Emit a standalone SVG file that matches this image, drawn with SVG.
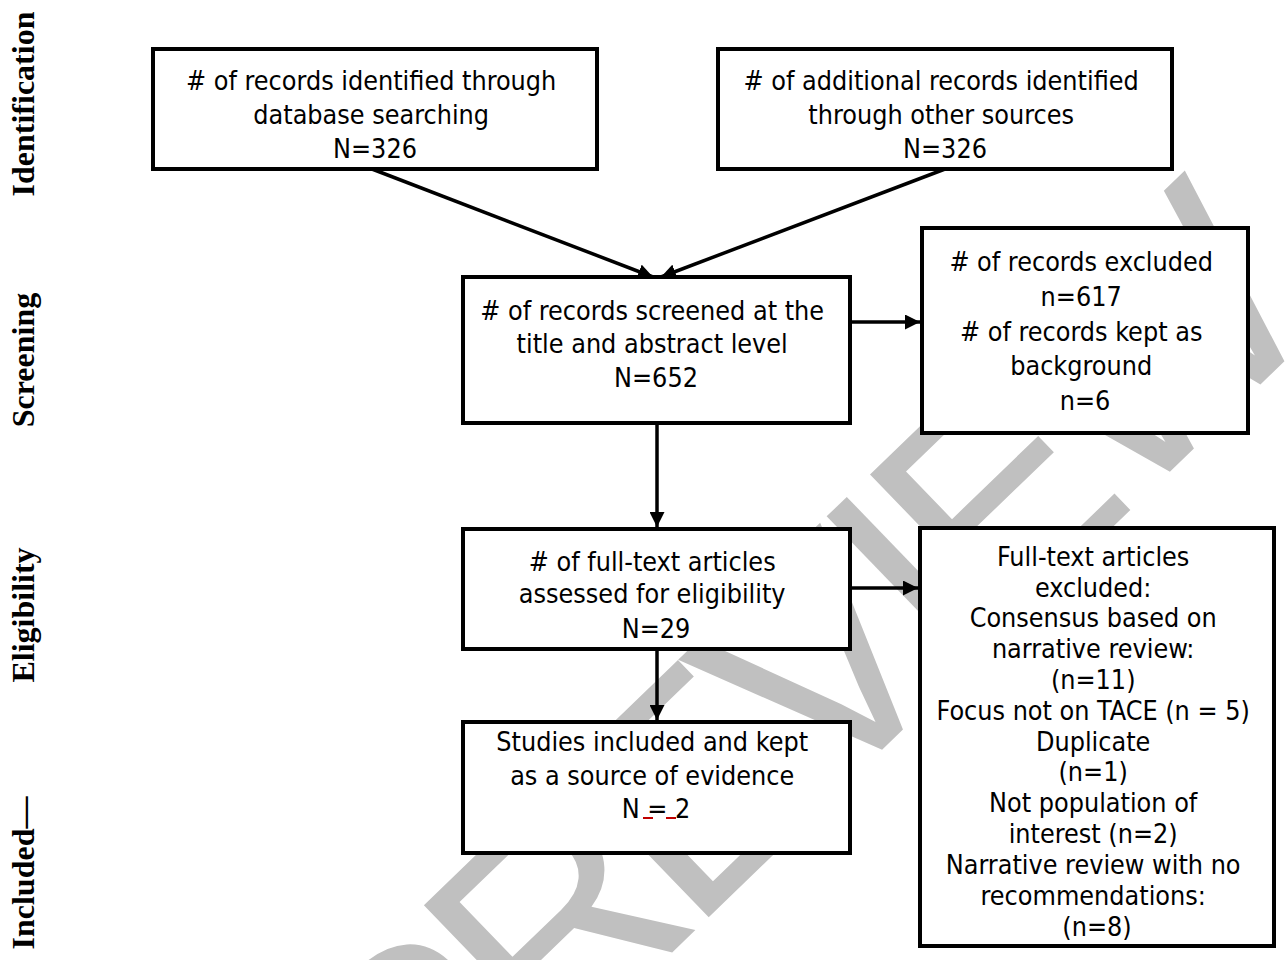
<svg xmlns="http://www.w3.org/2000/svg" width="1287" height="960" viewBox="0 0 1287 960">
<style>
.box{fill:#fff;stroke:#000;stroke-width:4}
.t{font-family:'DejaVu Sans Condensed','DejaVu Sans',sans-serif;font-stretch:condensed;font-size:26.7px;fill:#000;text-anchor:middle}
.side{font-family:'Liberation Serif','Times New Roman',serif;font-weight:bold;font-size:32px;fill:#000;text-anchor:middle}
.wm{font-family:'Liberation Sans',Arial,sans-serif;font-size:300px;letter-spacing:-20px;fill:#c0c0c0}
.conn{stroke:#000;stroke-width:3.5;fill:none}
</style>
<defs>
<marker id="ah" viewBox="0 0 10 10" refX="10" refY="5" markerWidth="15" markerHeight="15" markerUnits="userSpaceOnUse" orient="auto">
<path d="M0,0 L10,5 L0,10 z" fill="#000"/>
</marker>
</defs>
<rect x="0" y="0" width="1287" height="960" fill="#fff"/>
<g id="watermark">
<text class="wm" x="420" y="1196" transform="rotate(-44 420 1196)">PREVIEW</text>
</g>
<g id="phase-labels">
<text class="side" x="34" y="104" transform="rotate(-90 34 104)">Identification</text>
<text class="side" x="34" y="360" transform="rotate(-90 34 360)">Screening</text>
<text class="side" x="34" y="615" transform="rotate(-90 34 615)">Eligibility</text>
<text class="side" x="34" y="873" transform="rotate(-90 34 873)">Included—</text>
</g>
<g id="connectors">
<line class="conn" x1="372" y1="169" x2="653" y2="277" marker-end="url(#ah)"/>
<line class="conn" x1="945" y1="169" x2="661" y2="277" marker-end="url(#ah)"/>
<line class="conn" x1="850" y1="322" x2="920" y2="322" marker-end="url(#ah)"/>
<line class="conn" x1="657" y1="423" x2="657" y2="527" marker-end="url(#ah)"/>
<line class="conn" x1="850" y1="588" x2="918" y2="588" marker-end="url(#ah)"/>
<line class="conn" x1="657" y1="649" x2="657" y2="720" marker-end="url(#ah)"/>
</g>
<g id="node-database">
<rect class="box" x="153" y="49" width="444" height="120"/>
<text class="t">
<tspan x="375" y="90"># of records identified through</tspan>
<tspan x="375" y="124">database searching</tspan>
<tspan x="375" y="158">N=326</tspan>
</text>
</g>
<g id="node-other">
<rect class="box" x="718" y="49" width="454" height="120"/>
<text class="t">
<tspan x="945" y="90"># of additional records identified</tspan>
<tspan x="945" y="124">through other sources</tspan>
<tspan x="945" y="158">N=326</tspan>
</text>
</g>
<g id="node-screened">
<rect class="box" x="463" y="277" width="387" height="146"/>
<text class="t">
<tspan x="656" y="320"># of records screened at the</tspan>
<tspan x="656" y="353">title and abstract level</tspan>
<tspan x="656" y="387">N=652</tspan>
</text>
</g>
<g id="node-excluded">
<rect class="box" x="922" y="228" width="326" height="205"/>
<text class="t">
<tspan x="1085" y="271"># of records excluded</tspan>
<tspan x="1085" y="306">n=617</tspan>
<tspan x="1085" y="341"># of records kept as</tspan>
<tspan x="1085" y="375">background</tspan>
<tspan x="1085" y="410">n=6</tspan>
</text>
</g>
<g id="node-fulltext">
<rect class="box" x="463" y="529" width="387" height="120"/>
<text class="t">
<tspan x="656" y="571"># of full-text articles</tspan>
<tspan x="656" y="603">assessed for eligibility</tspan>
<tspan x="656" y="638">N=29</tspan>
</text>
</g>
<g id="node-fulltext-excluded">
<rect class="box" x="920" y="528" width="354" height="418"/>
<text class="t">
<tspan x="1097" y="566">Full-text articles</tspan>
<tspan x="1097" y="597">excluded:</tspan>
<tspan x="1097" y="627">Consensus based on</tspan>
<tspan x="1097" y="658">narrative review:</tspan>
<tspan x="1097" y="689">(n=11)</tspan>
<tspan x="1097" y="720">Focus not on TACE (n = 5)</tspan>
<tspan x="1097" y="751">Duplicate</tspan>
<tspan x="1097" y="781">(n=1)</tspan>
<tspan x="1097" y="812">Not population of</tspan>
<tspan x="1097" y="843">interest (n=2)</tspan>
<tspan x="1097" y="874">Narrative review with no</tspan>
<tspan x="1097" y="905">recommendations:</tspan>
<tspan x="1097" y="936">(n=8)</tspan>
</text>
</g>
<g id="node-included">
<rect class="box" x="463" y="722" width="387" height="131"/>
<text class="t">
<tspan x="656" y="751">Studies included and kept</tspan>
<tspan x="656" y="785">as a source of evidence</tspan>
<tspan x="656" y="818">N = 2</tspan>
</text>
<line x1="643" y1="818" x2="653" y2="818" stroke="#c00000" stroke-width="2"/>
<line x1="666" y1="818" x2="676" y2="818" stroke="#c00000" stroke-width="2"/>
</g>
</svg>
